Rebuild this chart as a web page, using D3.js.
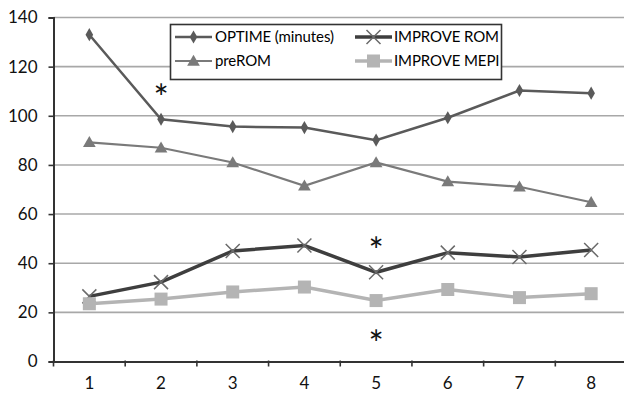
<!DOCTYPE html>
<html>
<head>
<meta charset="utf-8">
<script src="https://cdn.jsdelivr.net/npm/d3@7"></script>
<style>
  html, body { margin: 0; padding: 0; background: #fff; }
  text { font-family: Lato, "Open Sans", sans-serif; }
</style>
</head>
<body>
<div id="chart"></div>
<script>
const width = 624;
const height = 396;

const categories = ["1", "2", "3", "4", "5", "6", "7", "8"];
const yTicks = [0, 20, 40, 60, 80, 100, 120, 140];

const optime = [133, 98.6, 95.6, 95.2, 90.1, 99.2, 110.3, 109.2];
const preRom = [89.2, 87, 81, 71.5, 81, 73.2, 71.1, 64.8];
const improveRom = [26.5, 32.3, 45, 47.2, 36.3, 44.3, 42.5, 45.4];
const improveMepi = [23.5, 25.4, 28.3, 30.3, 24.8, 29.3, 26, 27.6];

const seriesNames = ["OPTIME (minutes)", "preROM", "IMPROVE ROM", "IMPROVE MEPI"];

// asterisks: [category, value at the centre of the mark]
const stars = [["2", 110.8], ["5", 48.4], ["5", 10.6]];

const plot = { left: 53.5, right: 627, top: 17.5, bottom: 361.5 };

const x = d3.scaleBand().domain(categories).range([plot.left, plot.right]);
const y = d3.scaleLinear().domain([0, 140]).range([plot.bottom, plot.top]);
const cx = (c) => x(c) + x.bandwidth() / 2;

const svg = d3.select("#chart").append("svg")
    .attr("width", width)
    .attr("height", height);

// gridlines
svg.append("g")
    .selectAll("line")
    .data(yTicks.filter((t) => t > 0))
    .join("line")
    .attr("x1", plot.left).attr("x2", plot.right)
    .attr("y1", (d) => y(d)).attr("y2", (d) => y(d))
    .attr("stroke", "#a8a8a8")
    .attr("stroke-width", 1.6);

// axes
const yAxis = svg.append("g")
    .attr("transform", `translate(${plot.left},0)`)
    .call(d3.axisLeft(y).tickValues(yTicks).tickSize(5).tickPadding(11));
yAxis.select(".domain").attr("stroke", "#333").attr("stroke-width", 2);
yAxis.selectAll(".tick line").attr("stroke", "#333").attr("stroke-width", 1.6);
yAxis.selectAll("text").attr("font-size", 17).attr("fill", "#111").attr("font-family", "Lato, sans-serif");

const xAxis = svg.append("g")
    .attr("transform", `translate(0,${plot.bottom})`)
    .call(d3.axisBottom(x).tickSize(0).tickPadding(15));
xAxis.select(".domain").attr("stroke", "#333").attr("stroke-width", 2);
xAxis.selectAll("text").attr("font-size", 17).attr("fill", "#111").attr("font-family", "Lato, sans-serif");
// tick marks sit on band boundaries
svg.append("g")
    .selectAll("line")
    .data(categories)
    .join("line")
    .attr("x1", (d) => x(d)).attr("x2", (d) => x(d))
    .attr("y1", plot.bottom - 1).attr("y2", plot.bottom + 5)
    .attr("stroke", "#333")
    .attr("stroke-width", 1.6);

const line = d3.line().x((d, i) => cx(categories[i])).y((d) => y(d));

const styles = [
    { data: optime, color: "#5a5a5a", width: 2.5, marker: "diamond" },
    { data: preRom, color: "#7a7a7a", width: 2.2, marker: "triangle" },
    { data: improveRom, color: "#3e3e3e", width: 3.5, marker: "cross" },
    { data: improveMepi, color: "#b4b4b4", width: 3.5, marker: "square" }
];

function drawMarker(g, type, color, px, py) {
    if (type === "diamond") {
        g.append("path").attr("d", d3.symbol(d3.symbolDiamond, 50)()).attr("transform", `translate(${px},${py})`).attr("fill", color);
    } else if (type === "triangle") {
        g.append("path").attr("d", d3.symbol(d3.symbolTriangle, 70)()).attr("transform", `translate(${px},${py + 1})`).attr("fill", color);
    } else if (type === "cross") {
        const s = 7;
        g.append("path")
            .attr("d", `M${px - s},${py - s}L${px + s},${py + s}M${px - s},${py + s}L${px + s},${py - s}`)
            .attr("stroke", "#6a6a6a").attr("stroke-width", 1.5).attr("fill", "none");
    } else {
        g.append("rect").attr("x", px - 6.5).attr("y", py - 6.5).attr("width", 13).attr("height", 13).attr("fill", color);
    }
}

styles.forEach((s) => {
    const g = svg.append("g");
    g.append("path")
        .datum(s.data)
        .attr("d", line)
        .attr("fill", "none")
        .attr("stroke", s.color)
        .attr("stroke-width", s.width);
    s.data.forEach((v, i) => drawMarker(g, s.marker, s.color, cx(categories[i]), y(v)));
});

// asterisks (glyph centre sits ~0.6em above the baseline)
const starSize = 36;
svg.append("g")
    .selectAll("text")
    .data(stars)
    .join("text")
    .attr("x", (d) => cx(d[0]))
    .attr("y", (d) => y(d[1]) + starSize * 0.6)
    .attr("text-anchor", "middle")
    .attr("font-size", starSize)
    .attr("fill", "#111")
    .attr("font-family", "DejaVu Sans, sans-serif")
    .text("*");

// legend
const legend = svg.append("g");
legend.append("rect")
    .attr("x", 170.5).attr("y", 24.5)
    .attr("width", 331).attr("height", 55)
    .attr("fill", "#fff")
    .attr("stroke", "#333")
    .attr("stroke-width", 1.6);

const legendPos = [
    { lx: 175, tx: 215, ty: 37 },
    { lx: 175, tx: 215, ty: 61 },
    { lx: 355, tx: 394, ty: 37 },
    { lx: 355, tx: 394, ty: 61 }
];

styles.forEach((s, i) => {
    const p = legendPos[i];
    legend.append("line")
        .attr("x1", p.lx).attr("x2", p.lx + 37)
        .attr("y1", p.ty).attr("y2", p.ty)
        .attr("stroke", s.color)
        .attr("stroke-width", s.width);
    drawMarker(legend, s.marker, s.color, p.lx + 18.5, p.ty);
    legend.append("text")
        .attr("x", p.tx).attr("y", p.ty)
        .attr("dy", "0.35em")
        .attr("font-size", 15)
        .attr("fill", "#000")
        .style("letter-spacing", "-0.1px")
        .text(seriesNames[i]);
});
</script>
</body>
</html>
